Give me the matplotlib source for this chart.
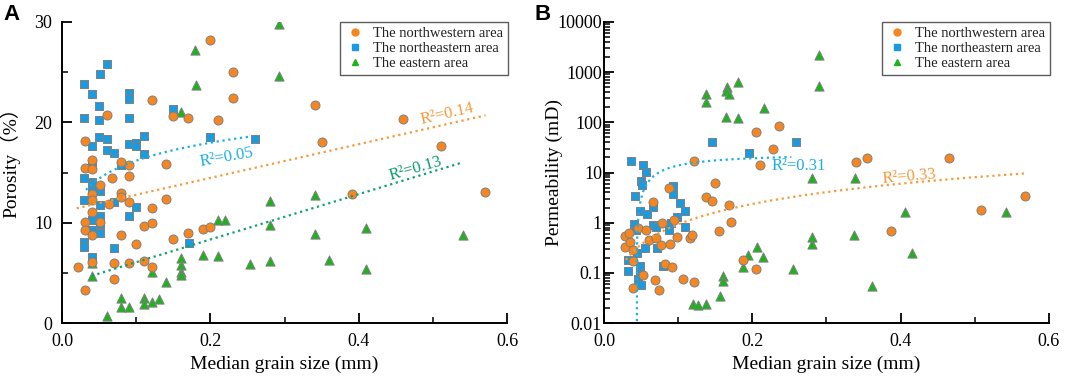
import numpy as np
import matplotlib
matplotlib.use('Agg')
import matplotlib.pyplot as plt
from matplotlib.ticker import MultipleLocator, LogLocator, NullFormatter, FixedLocator, FixedFormatter

plt.rcParams['font.family'] = ['Liberation Serif', 'Noto Sans CJK SC', 'DejaVu Sans']

# ---- colours
cNW = '#F7861E'
cNE = '#1A9BE0'
cE = '#1DB31D'
edge = '#7F7F7F'

# ---- panel A : porosity vs median grain size
porNW_x = [0.022, 0.031, 0.031, 0.031, 0.031, 0.031, 0.040, 0.040, 0.040, 0.040, 0.040, 0.040, 0.040,
           0.051, 0.051, 0.061, 0.063, 0.067, 0.070, 0.070, 0.080, 0.080, 0.080, 0.080, 0.091, 0.091,
           0.091, 0.091, 0.100, 0.110, 0.110, 0.121, 0.121, 0.121, 0.121, 0.140, 0.140, 0.150, 0.150,
           0.170, 0.170, 0.190, 0.200, 0.200, 0.210, 0.230, 0.230, 0.341, 0.350, 0.391, 0.460, 0.511, 0.571]
porNW_y = [5.6, 3.3, 18.1, 15.4, 10.1, 9.3, 16.2, 15.3, 12.9, 12.3, 11.1, 8.8, 6.1,
           13.8, 10.1, 20.7, 11.9, 14.5, 6.0, 4.4, 16.0, 13.0, 12.6, 8.8, 15.7, 14.7,
           12.1, 6.0, 7.9, 9.7, 6.2, 22.2, 11.5, 10.0, 5.6, 15.8, 12.4, 20.6, 8.4,
           20.4, 9.0, 9.4, 28.2, 9.6, 20.2, 25.0, 22.4, 21.7, 18.0, 12.9, 20.3, 17.6, 13.1]

porNE_x = [0.030, 0.040, 0.051, 0.061, 0.050, 0.050, 0.030, 0.050, 0.061, 0.040, 0.061, 0.070, 0.091,
           0.091, 0.091, 0.091, 0.100, 0.100, 0.110, 0.110, 0.030, 0.040, 0.040, 0.040, 0.040, 0.051,
           0.030, 0.051, 0.070, 0.080, 0.100, 0.051, 0.051, 0.051, 0.040, 0.040, 0.030, 0.030, 0.040,
           0.070, 0.091, 0.150, 0.200, 0.260, 0.171]
porNE_y = [23.8, 22.8, 24.8, 25.8, 21.6, 20.2, 20.4, 18.5, 18.3, 17.6, 17.2, 16.9, 22.9,
           22.3, 20.4, 17.8, 17.9, 17.6, 18.6, 16.8, 14.5, 15.8, 14.1, 13.8, 13.3, 13.2,
           12.3, 11.8, 12.1, 15.7, 11.6, 10.7, 9.9, 9.0, 10.3, 9.3, 8.1, 7.6, 6.6,
           7.5, 10.7, 21.3, 18.5, 18.3, 8.0]

porE_x = [0.179, 0.181, 0.160, 0.040, 0.040, 0.060, 0.080, 0.080, 0.090, 0.111, 0.111, 0.121, 0.131,
          0.121, 0.140, 0.160, 0.160, 0.160, 0.160, 0.190, 0.210, 0.210, 0.220, 0.253, 0.281, 0.281,
          0.281, 0.292, 0.292, 0.341, 0.341, 0.360, 0.410, 0.410, 0.540]
porE_y = [27.2, 23.7, 21.0, 6.0, 4.7, 0.7, 2.5, 1.6, 1.6, 2.5, 1.9, 2.1, 2.4,
          5.1, 4.1, 6.5, 5.8, 5.1, 4.8, 6.8, 6.7, 10.3, 10.3, 5.9, 6.2, 9.8,
          12.2, 29.8, 24.6, 12.8, 8.9, 6.3, 9.5, 5.4, 8.8]

# trend lines (fit coefficients)
fitA_NE = (22.12, 2.58, 0.0324, 0.256)   # y = a + b ln x
fitA_NW = (11.1, 16.8, 0.0198, 0.571)    # y = a + b x
fitA_E = (3.8, 22.6, 0.040, 0.539)       # y = a + b x

# ---- panel B : permeability vs median grain size
permNW_x = [0.028, 0.028, 0.034, 0.035, 0.039, 0.039, 0.039, 0.046, 0.052, 0.057, 0.061, 0.066, 0.070,
            0.069, 0.074, 0.077, 0.078, 0.082, 0.089, 0.088, 0.092, 0.094, 0.099, 0.107, 0.116, 0.118,
            0.122, 0.122, 0.137, 0.145, 0.150, 0.155, 0.169, 0.171, 0.188, 0.205, 0.205, 0.210, 0.228,
            0.236, 0.340, 0.355, 0.465, 0.508, 0.567, 0.387]
permNW_y = [0.54, 0.33, 0.61, 0.42, 0.29, 0.17, 0.049, 0.77, 0.09, 0.71, 0.45, 2.6, 0.49,
            0.071, 0.045, 0.36, 0.97, 0.147, 0.37, 4.8, 0.13, 1.13, 0.52, 0.076, 0.49, 0.58,
            17, 0.065, 3.3, 2.7, 6.3, 0.68, 2.3, 1.03, 0.18, 0.12, 65, 14, 30,
            85, 16, 19.5, 19.2, 1.8, 3.4, 0.68]

permNE_x = [0.036, 0.042, 0.048, 0.050, 0.051, 0.053, 0.057, 0.058, 0.066, 0.066, 0.070, 0.071, 0.093,
            0.093, 0.088, 0.091, 0.102, 0.098, 0.109, 0.109, 0.041, 0.043, 0.033, 0.033, 0.048, 0.048,
            0.046, 0.050, 0.055, 0.045, 0.079, 0.146, 0.196, 0.259]
permNE_y = [17.3, 3.4, 1.7, 6.9, 5.6, 14, 10.4, 1.5, 2.1, 0.9, 0.83, 0.31, 5.5,
            3.7, 0.71, 1.0, 2.5, 1.3, 1.7, 0.83, 0.92, 0.72, 0.18, 0.11, 0.14, 0.097,
            0.077, 0.057, 0.31, 0.25, 0.14, 41, 25, 40]

permE_x = [0.138, 0.138, 0.166, 0.165, 0.169, 0.181, 0.165, 0.181, 0.216, 0.120, 0.127, 0.137, 0.157,
           0.160, 0.160, 0.187, 0.194, 0.206, 0.214, 0.255, 0.290, 0.290, 0.280, 0.338, 0.406,
           0.542, 0.281, 0.280, 0.337, 0.415, 0.362]
permE_y = [370, 252, 500, 430, 370, 650, 130, 121, 192, 0.024, 0.0226, 0.0237, 0.034,
           0.086, 0.068, 0.13, 0.23, 0.33, 0.21, 0.12, 2220, 518, 7.7, 7.7, 1.65,
           1.65, 0.52, 0.37, 0.58, 0.25, 0.054]

fitB_NE = (24.6, 1.08, 0.0439, 0.2526)   # y = a - c / x
fitB_NW = (20.5, 1.344, 0.0296, 0.567)   # y = a x^b

labels = ['The northwestern area', 'The northeastern area', 'The eastern area']


def scatter3(ax, xs, ys):
    ax.scatter(xs[0], ys[0], s=42, marker='o', c=cNW, edgecolors=edge, linewidths=0.7, zorder=4)
    ax.scatter(xs[1], ys[1], s=34, marker='s', c=cNE, edgecolors=edge, linewidths=0.7, zorder=3)
    ax.scatter(xs[2], ys[2], s=44, marker='^', c=cE, edgecolors=edge, linewidths=0.7, zorder=3)


def add_legend(ax):
    h = [plt.Line2D([], [], ls='', marker='o', ms=5, color=cNW),
         plt.Line2D([], [], ls='', marker='s', ms=4.5, color=cNE),
         plt.Line2D([], [], ls='', marker='^', ms=5, color=cE)]
    leg = ax.legend(h, labels, loc='upper right', bbox_to_anchor=(1.002, 1.0), fontsize=10.5,
                    frameon=True, fancybox=False, borderaxespad=0, labelspacing=0.12,
                    handletextpad=0.5, handlelength=1.4, borderpad=0.35)
    leg.get_frame().set_edgecolor('#333333')
    leg.get_frame().set_linewidth(1.0)
    for t in leg.get_texts():
        t.set_color('#222222')


def style_axes(ax):
    for s in ['top', 'right']:
        ax.spines[s].set_visible(False)
    for s in ['left', 'bottom']:
        ax.spines[s].set_linewidth(1.4)
    ax.tick_params(which='major', direction='in', length=7, width=1.3, labelsize=13)
    ax.tick_params(which='minor', direction='in', length=4, width=1.1)
    ax.tick_params(axis='x', which='major', pad=7)
    ax.set_xlim(0, 0.6)
    ax.xaxis.set_major_locator(MultipleLocator(0.2))
    ax.xaxis.set_minor_locator(MultipleLocator(0.1))
    ax.xaxis.set_major_formatter(matplotlib.ticker.FormatStrFormatter('%.1f'))
    ax.set_xlabel('Median grain size (mm)', fontsize=14, labelpad=4)


fig = plt.figure(figsize=(10.65, 3.79), dpi=100)
axA = fig.add_axes([62 / 1065, 1 - 323 / 379, 445 / 1065, 301 / 379])
axB = fig.add_axes([604 / 1065, 1 - 323 / 379, 445 / 1065, 301 / 379])

# panel A
scatter3(axA, [porNW_x, porNE_x, porE_x], [porNW_y, porNE_y, porE_y])
a, b, x0, x1 = fitA_NE
xx = np.linspace(x0, x1, 100)
axA.plot(xx, a + b * np.log(xx), ls=':', lw=1.6, color='#1BB0E0', zorder=5)
a, b, x0, x1 = fitA_NW
xx = np.linspace(x0, x1, 100)
axA.plot(xx, a + b * xx, ls=':', lw=1.6, color='#F59A3A', zorder=5)
a, b, x0, x1 = fitA_E
xx = np.linspace(x0, x1, 100)
axA.plot(xx, a + b * xx, ls=':', lw=1.6, color='#0FA070', zorder=5)

axA.text(0.222, 16.5, 'R²=0.05', color='#1BB0E0', fontsize=12, rotation=10, ha='center', va='center')
axA.text(0.519, 20.8, 'R²=0.14', color='#F59A3A', fontsize=12, rotation=13, ha='center', va='center')
axA.text(0.477, 15.4, 'R²=0.13', color='#0F9A6A', fontsize=12, rotation=16, ha='center', va='center')

style_axes(axA)
axA.set_ylim(0, 30)
axA.yaxis.set_major_locator(MultipleLocator(10))
axA.yaxis.set_minor_locator(MultipleLocator(5))
axA.tick_params(axis='y', which='major', pad=7)
axA.set_ylabel('Porosity（%）', fontsize=14)
axA.yaxis.set_label_coords(-0.094, 0.55)
add_legend(axA)

# panel B
scatter3(axB, [permNW_x, permNE_x, permE_x], [permNW_y, permNE_y, permE_y])
a, c, x0, x1 = fitB_NE
xx = np.linspace(x0, x1, 400)
axB.plot(xx, a - c / xx, ls=':', lw=1.6, color='#1BB0E0', zorder=5)
a, b, x0, x1 = fitB_NW
xx = np.linspace(x0, x1, 200)
axB.plot(xx, a * xx ** b, ls=':', lw=1.6, color='#F59A3A', zorder=5)

axB.text(0.263, 13.5, 'R²=0.31', color='#1BB0E0', fontsize=12, ha='center', va='center')
axB.text(0.412, 8.4, 'R²=0.33', color='#F59A3A', fontsize=12, rotation=5, ha='center', va='center')

style_axes(axB)
axB.set_yscale('log')
axB.set_ylim(0.01, 10000)
yt = [0.01, 0.1, 1, 10, 100, 1000, 10000]
axB.yaxis.set_major_locator(FixedLocator(yt))
axB.yaxis.set_major_formatter(FixedFormatter(['0.01', '0.1', '1', '10', '100', '1000', '10000']))
axB.yaxis.set_minor_locator(LogLocator(base=10, subs=np.arange(2, 10), numticks=20))
axB.yaxis.set_minor_formatter(NullFormatter())
axB.tick_params(axis='y', which='major', pad=1.5)
axB.set_ylabel('Permeability (mD)', fontsize=14)
axB.yaxis.set_label_coords(-0.092, 0.5)
add_legend(axB)

fig.text(3 / 1065, 1 - 4 / 379, 'A', fontsize=16, fontweight='bold', family='Liberation Sans', va='top')
fig.text(534 / 1065, 1 - 4 / 379, 'B', fontsize=16, fontweight='bold', family='Liberation Sans', va='top')

fig.savefig('out.png', dpi=100)
